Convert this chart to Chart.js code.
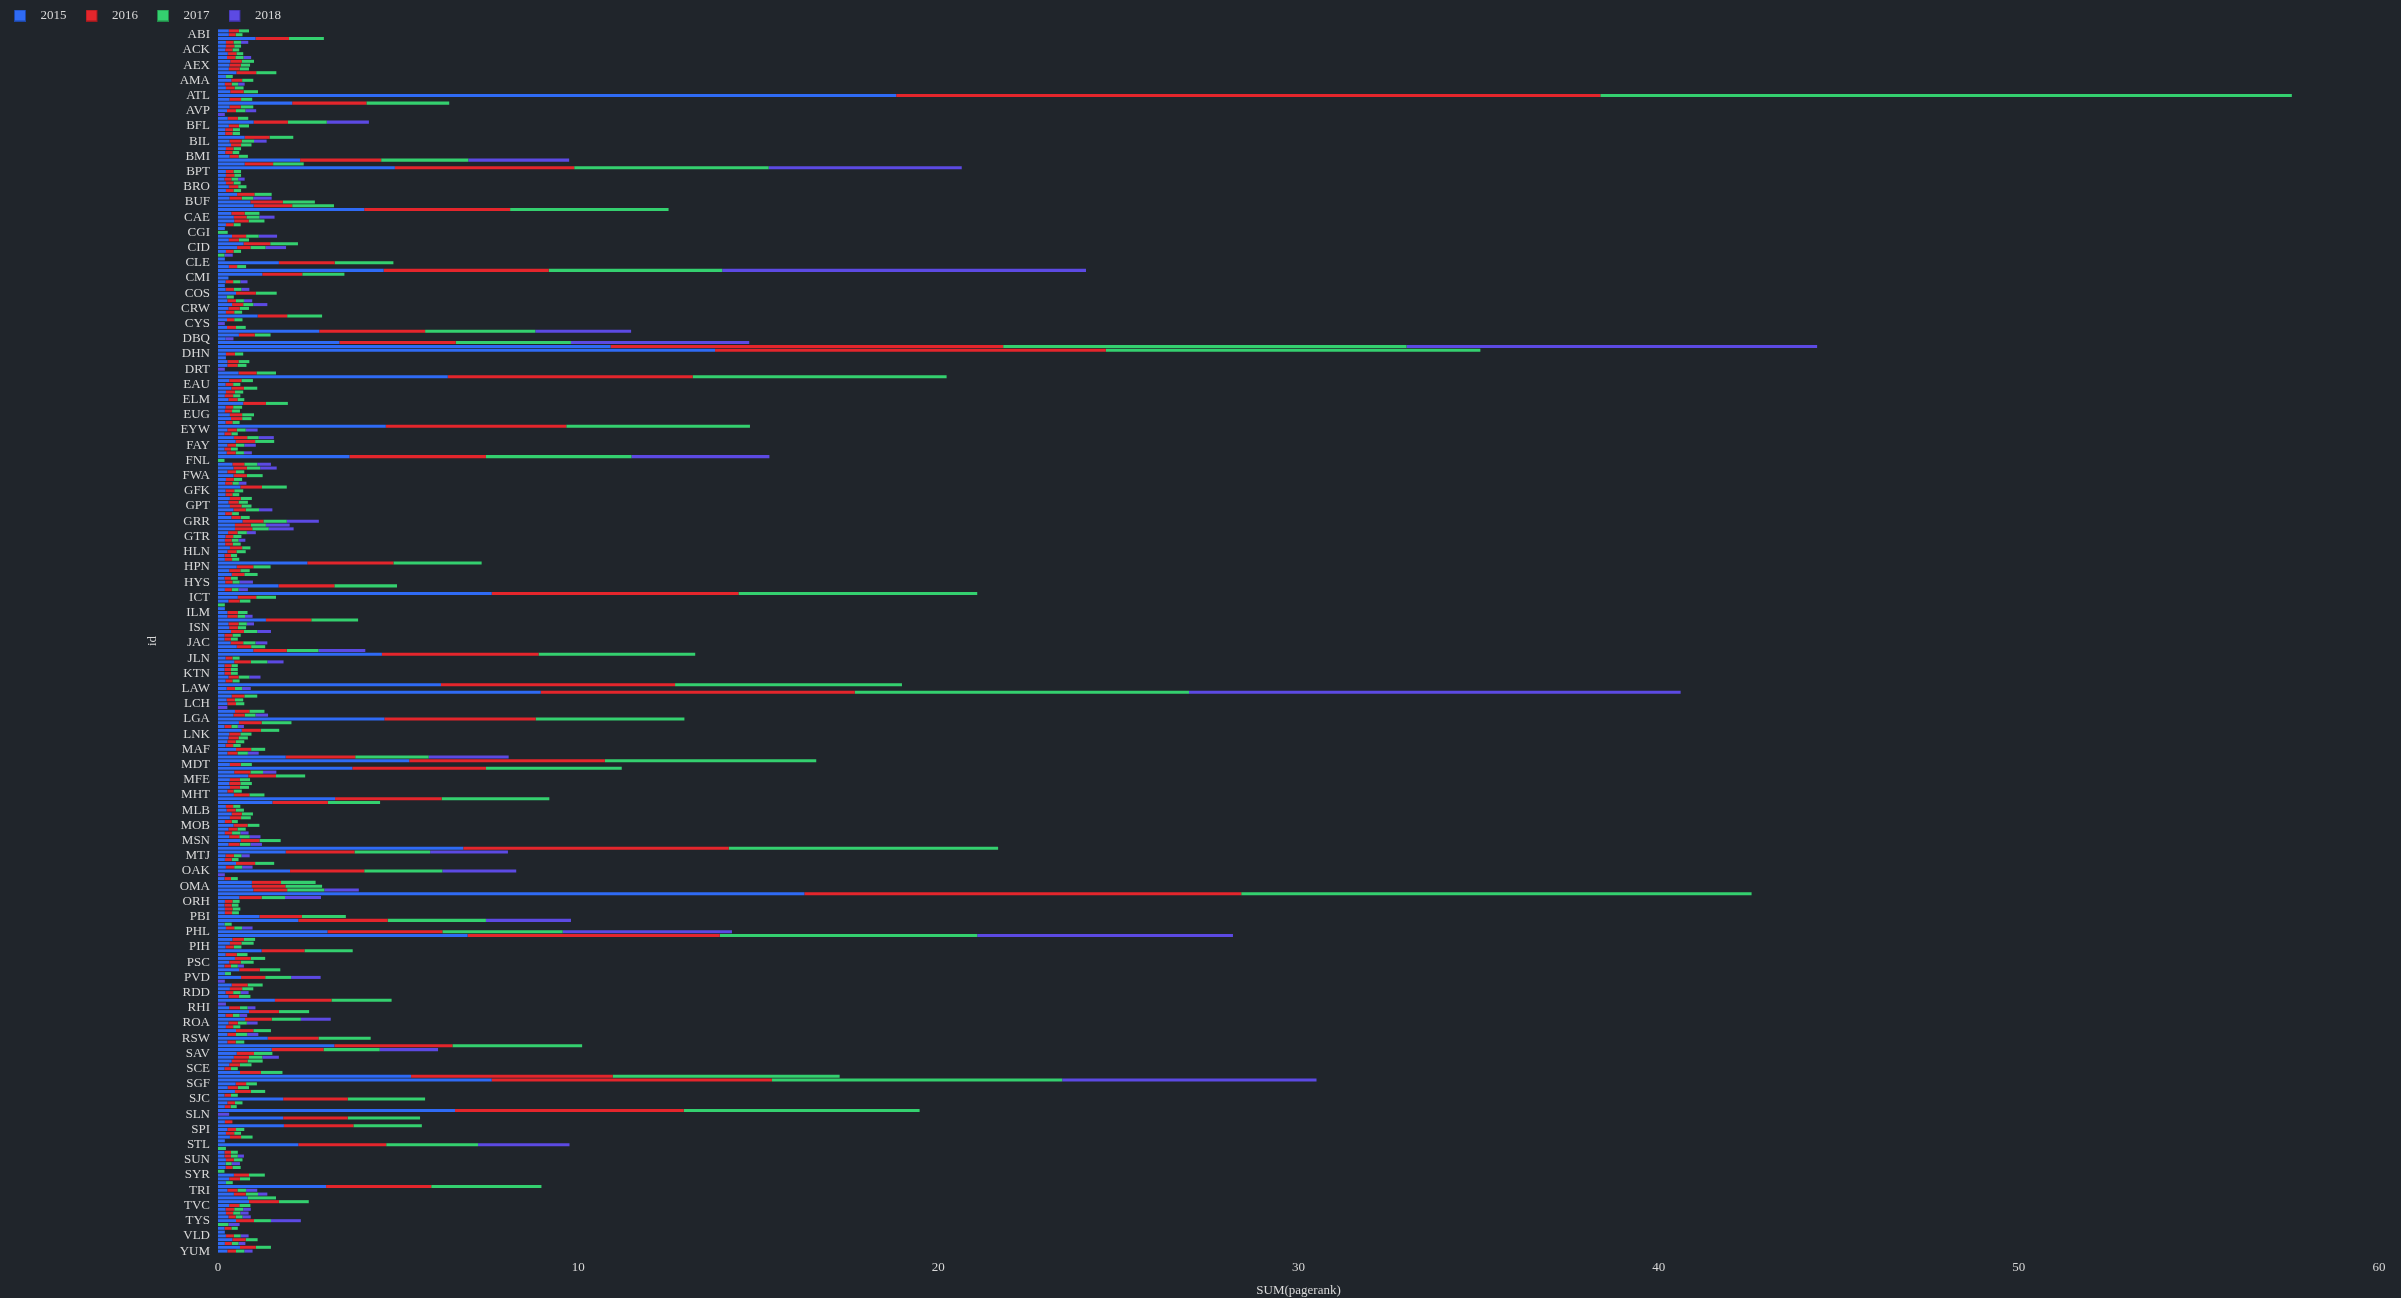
<!DOCTYPE html>
<html><head><meta charset="utf-8">
<script src="https://cdn.jsdelivr.net/npm/chart.js@4.4.1/dist/chart.umd.min.js"></script>
<style>html,body{margin:0;padding:0;background:#20252b;}#wrap{width:2401px;height:1298px;}</style>
</head><body><div id="wrap"><canvas id="c" width="2401" height="1298"></canvas></div>
<script>
const airports = ["ABE","ABI","ABQ","ABR","ABY","ACK","ACT","ACV","ACY","AEX",
"AGS","ALB","ALO","AMA","ANC","APN","ASE","ATL","ATW","AUS",
"AVL","AVP","AZO","BDL","BET","BFL","BGM","BGR","BHM","BIL",
"BIS","BJI","BLI","BMI","BNA","BOI","BOS","BPT","BQK","BQN",
"BRD","BRO","BTM","BTR","BTV","BUF","BUR","BWI","BZN","CAE",
"CAK","CDC","CDV","CGI","CHA","CHO","CHS","CID","CIU","CKB",
"CLD","CLE","CLL","CLT","CMH","CMI","CMX","CNY","COD","COS",
"COU","CPR","CRP","CRW","CSG","CVG","CWA","CYS","DAB","DAL",
"DAY","DBQ","DCA","DEN","DFW","DHN","DIK","DLH","DRO","DRT",
"DSM","DTW","DVL","EAU","ECP","EGE","EKO","ELM","ELP","ERI",
"ESC","EUG","EVV","EWN","EWR","EYW","FAI","FAR","FAT","FAY",
"FCA","FLG","FLL","FNL","FNT","FSD","FSM","FWA","GCC","GCK",
"GEG","GFK","GGG","GJT","GNV","GPT","GRB","GRI","GRK","GRR",
"GSO","GSP","GST","GTR","GUC","HDN","HIB","HLN","HNL","HOB",
"HOU","HPN","HRL","HSV","HYA","HYS","IAD","IAG","IAH","ICT",
"IDA","IFP","ILG","ILM","IMT","IND","INL","ISN","ISP","ITH",
"ITO","JAC","JAN","JAX","JFK","JLN","JMS","JNU","KOA","KTN",
"LAN","LAR","LAS","LAW","LAX","LBB","LBE","LCH","LCK","LEX",
"LFT","LGA","LGB","LIH","LIT","LNK","LRD","LSE","LWS","MAF",
"MBS","MCI","MCO","MDT","MDW","MEI","MEM","MFE","MFR","MGM",
"MHK","MHT","MIA","MKE","MKG","MLB","MLI","MLU","MMH","MOB",
"MOT","MQT","MRY","MSN","MSO","MSP","MSY","MTJ","MVY","MYR",
"OAJ","OAK","OGG","OGS","OKC","OMA","ONT","ORD","ORF","ORH",
"OTH","OTZ","PAH","PBI","PDX","PGD","PHF","PHL","PHX","PIA",
"PIB","PIH","PIT","PLN","PNS","PSC","PSG","PSP","PUB","PVD",
"PVU","PWM","RAP","RDD","RDM","RDU","RFD","RHI","RIC","RKS",
"RNO","ROA","ROC","ROW","RST","RSW","SAF","SAN","SAT","SAV",
"SBA","SBN","SBP","SCE","SDF","SEA","SFO","SGF","SGU","SHV",
"SIT","SJC","SJT","SJU","SLC","SLN","SMF","SMX","SNA","SPI",
"SPS","SRQ","STC","STL","STS","STT","STX","SUN","SUX","SWF",
"SWO","SYR","TLH","TOL","TPA","TRI","TTN","TUL","TUS","TVC",
"TWF","TXK","TYR","TYS","UIN","UST","VEL","VLD","VPS","WRG",
"XNA","YUM"];

const seriesNames = ["2015","2016","2017","2018"];

const y2015 = [.30,.30,1.04,.22,.22,.20,.27,.25,.34,.32,
.30,.51,.22,.37,.19,.22,.34,18.83,.32,2.06,
.32,.25,null,.27,.99,.30,.20,.20,.74,.32,
.36,.22,.20,.32,2.28,.74,4.91,.22,.22,.18,
.22,.30,.22,.53,.32,.90,.99,4.06,.37,.44,
.45,.22,.19,null,.39,.30,.71,.53,.22,null,
.19,1.69,.30,4.60,1.23,.29,.21,.19,.21,.50,
.24,.26,.39,.29,.22,1.10,.25,null,.25,2.81,
.58,.21,3.37,10.9,13.8,.22,.22,.26,.26,null,
.57,6.38,.31,.21,.37,.22,.19,.29,.70,.21,
.19,.33,.36,.21,4.66,.26,.18,.44,.49,.26,
.18,.24,3.65,null,.40,.43,.26,.43,.22,.20,
.62,.21,.21,.33,.29,.33,.43,.20,.37,.68,
.47,.47,.28,.21,.19,.20,.33,.26,.18,.19,
2.48,.52,.31,.38,.18,.20,1.68,.19,7.60,.55,
.29,null,.19,.26,.26,1.33,.29,.31,.36,.18,
.18,.35,.52,.98,4.55,.21,.45,.18,.18,.18,
.29,.21,6.19,.24,8.96,.38,.24,.26,null,.47,
.43,4.62,.58,.18,.66,.31,.29,.26,.21,.50,
.26,1.88,5.31,.33,3.73,.45,.84,.33,.31,.33,
.26,.44,3.25,1.51,.22,.24,.38,.33,.19,.43,
.29,.19,.31,.63,.29,6.81,1.88,.21,.19,.50,
.22,2.00,null,.18,.94,.94,.98,16.28,.59,.19,
.18,.19,.19,1.15,2.23,.18,.22,3.04,6.93,.40,
.33,.21,1.21,.21,.47,.31,.18,.59,.19,.64,
null,.38,.33,.21,.29,1.58,null,.31,.86,.21,
.75,.29,.22,.50,.26,1.38,.26,3.23,1.49,.52,
.44,.38,.31,.18,.61,5.36,7.60,.49,.27,.47,
.18,1.81,.26,.19,6.58,null,1.81,.19,1.83,.26,
.22,.33,.19,2.23,null,.18,.18,.22,.21,.21,
null,.44,.31,.22,3.00,.26,.44,.82,.86,.31,
.21,.22,.29,.50,null,.18,.19,.22,.40,.19,
.61,.26];

const y2016 = [.28,.19,.93,.21,.23,.20,.24,.23,.32,.31,
.30,.55,null,.30,.19,.24,.37,19.55,.32,2.06,
.31,.25,null,.28,.95,.28,.21,.20,.69,.34,
.28,.21,.20,.25,2.25,.79,4.98,.21,.23,.19,
.21,.26,.21,.48,.34,.90,1.07,4.05,.37,.35,
.40,.21,null,null,.39,.28,.74,.37,.21,null,
null,1.55,.23,4.58,1.11,null,.21,null,.23,.55,
null,.24,.31,.31,.23,.82,.20,null,.25,2.94,
.44,null,3.23,10.9,10.85,.25,null,.31,.28,null,
.50,6.80,.34,.21,.35,.25,.23,.25,.63,.21,
.20,.34,.31,.19,5.01,.26,.19,.37,.54,.24,
.18,.25,3.79,null,.33,.37,.24,.37,.22,.20,
.60,.24,.19,.30,.28,.32,.34,.19,.26,.58,
.44,.48,.26,.21,.19,.21,.34,.25,.18,.20,
2.39,.46,.31,.35,.18,.20,1.55,.19,6.85,.51,
.31,null,null,.29,.28,1.26,.28,.24,.36,.22,
.18,.35,.40,.93,4.35,.19,.46,.19,.18,.18,
.28,.19,6.50,.23,8.72,.35,.23,.24,null,.40,
.31,4.20,.63,.19,.53,.31,.28,.23,.21,.42,
.28,1.93,5.43,.30,3.71,.45,.77,.28,.31,.28,
.17,.43,2.96,1.54,.20,.25,.28,.31,.19,.39,
.25,.20,.28,.52,.31,7.37,1.91,.23,.19,.53,
.23,2.06,null,.18,.81,.93,.94,12.13,.62,.21,
.20,.21,.20,1.18,2.48,null,.23,3.19,7.00,.32,
.32,.23,1.19,.31,.44,.32,.18,.57,null,.67,
null,.44,.34,.21,.29,1.57,null,.30,.83,.20,
.74,.26,.20,.48,.24,1.41,.23,3.28,1.44,.48,
.42,.44,.30,.18,.58,5.60,7.78,.29,.28,.44,
.18,1.79,.21,.16,6.35,null,1.79,.21,1.93,.24,
.23,.31,null,2.44,null,.18,.18,.22,null,.19,
null,.42,.30,null,2.92,.28,.33,null,.83,.28,
.24,.20,.20,.50,null,.19,null,.22,.37,.19,
.44,.24];

const y2017 = [.28,.19,.97,.21,.19,.19,.19,.23,.34,.26,
.26,.56,.19,.31,.18,.25,.40,19.20,.31,2.30,
.35,.26,null,.29,1.08,.28,.20,.21,.66,.34,
.29,.21,.19,.26,2.42,.85,5.40,.21,.19,.19,
.20,.23,.21,.48,.32,.89,1.16,4.40,.41,.36,
.44,.20,null,.27,.35,.28,.77,.42,.21,.18,
null,1.63,.25,4.82,1.17,null,.20,null,.21,.58,
.20,.22,.28,.26,.22,.97,.23,null,.27,3.06,
.44,null,3.20,11.2,10.4,.23,null,.30,.25,null,
.54,7.05,.32,.20,.37,.23,.20,.19,.61,.25,
.22,.33,.26,.20,5.10,.25,.18,.32,.53,.23,
.19,.23,4.04,.18,.36,.37,.23,.44,.23,.18,
.69,.25,.19,.31,.26,.28,.37,.19,.25,.65,
.42,.46,.26,.23,.19,.22,.23,.26,.17,.20,
2.45,.48,.26,.37,.19,.20,1.74,.19,6.63,.55,
.30,.19,null,.27,.21,1.30,.23,.23,.37,.23,
.19,.34,.39,.88,4.35,.20,.46,.18,.19,.19,
.30,.20,6.30,.20,9.28,.36,.23,.23,null,.42,
.30,4.13,.83,.18,.51,.31,.26,.24,.21,.39,
.29,2.04,5.87,.31,3.77,.35,.81,.28,.32,.25,
.23,.42,2.99,1.45,.20,.23,.31,.27,.17,.33,
.23,.23,.29,.59,.30,7.48,2.10,.21,.19,.53,
.22,2.17,null,.19,.96,1.02,1.03,14.17,.65,.20,
.19,.22,.19,1.22,2.73,.20,.22,3.34,7.15,.31,
.34,.21,1.34,.30,.40,.36,.19,.57,.17,.72,
null,.42,.31,.21,.32,1.67,null,.21,.84,.19,
.81,.25,.20,.49,.31,1.45,.24,3.60,1.56,.51,
.37,.42,.32,.19,.60,6.30,8.06,.30,.31,.40,
.19,2.15,.21,.17,6.55,null,2.01,null,1.90,.23,
.19,.32,null,2.55,.22,.19,.19,.24,.17,.23,
.18,.44,.28,.19,3.06,.24,.34,.79,.83,.31,
.25,.20,.19,.47,.29,.18,null,.19,.33,.19,
.42,.23];

const y2018 = [null,null,null,.20,null,null,null,.21,null,null,
null,null,null,null,.18,null,null,null,null,null,
null,.30,.19,null,1.17,null,null,null,null,.35,
null,null,null,null,2.80,null,5.36,null,null,.18,
null,null,null,null,.51,null,null,null,null,.42,
null,null,null,null,.51,null,null,.57,null,.23,
null,null,null,10.10,null,null,.20,null,.22,null,
null,.23,.39,null,null,null,null,.19,null,2.66,
null,.22,4.95,11.40,null,null,null,null,null,.19,
null,null,null,null,null,null,null,null,null,null,
null,null,null,null,null,.33,null,.42,null,.32,
null,.22,3.83,null,.38,.46,null,null,null,.21,
null,null,null,null,null,null,.37,null,null,.89,
.66,.69,.25,null,.19,null,null,null,null,null,
null,null,null,null,null,.37,null,.26,null,null,
null,null,null,null,.21,null,.20,null,.38,null,
null,.33,null,1.30,null,null,.45,null,null,null,
.31,null,null,.24,13.65,null,null,null,.26,null,
.35,null,null,.17,null,null,null,null,null,null,
.30,2.22,null,null,null,.37,null,null,null,null,
null,null,null,null,null,null,null,null,null,null,
null,.23,.30,null,.32,null,2.16,.23,null,null,
.29,2.05,.19,null,null,null,.96,null,1.00,null,
null,null,null,null,2.36,null,.29,4.70,7.10,null,
null,null,null,null,null,null,.17,null,null,.82,
.19,null,null,.22,null,null,.22,.22,null,.21,
.83,.30,null,null,.31,null,null,null,1.62,null,
.46,null,null,null,null,null,7.06,null,null,null,
null,null,null,null,null,.31,null,null,null,null,
null,null,null,2.54,null,null,.17,null,.23,null,
null,null,null,null,null,.31,.26,null,null,null,
.21,.23,.23,.83,.31,null,null,.22,null,.19,
null,.23];

const xTicks = [0,10,20,30,40,50,60];

const fills = ['#2f6bf5','#e4262c','#34d06f','#5c4ae3'];
const edges = ['#1d47a8','#9c1a1e','#228a49','#3b2f9c'];
const FONT = "'Liberation Serif', 'DejaVu Serif', serif";
const TXT = '#d9d9d9';

function legendBox(fill, edge) {
  const c = document.createElement('canvas');
  c.width = 20; c.height = 12;
  const g = c.getContext('2d');
  g.fillStyle = fill; g.fillRect(0, 0, 12, 12);
  g.strokeStyle = edge; g.lineWidth = 1; g.strokeRect(0.5, 0.5, 11, 11);
  return c;
}
const boxes = fills.map((f, i) => legendBox(f, edges[i]));

const values = [y2015, y2016, y2017, y2018];
const datasets = values.map((arr, i) => ({
  label: seriesNames[i],
  data: arr,
  backgroundColor: fills[i],
  borderWidth: 0,
  categoryPercentage: 0.8,
  barPercentage: 1.0
}));

new Chart(document.getElementById('c'), {
  type: 'bar',
  data: { labels: airports, datasets },
  options: {
    indexAxis: 'y',
    responsive: false,
    devicePixelRatio: 1,
    animation: false,
    layout: { padding: { top: -10, left: -5, right: 22, bottom: 0 } },
    plugins: {
      tooltip: { enabled: false },
      legend: {
        position: 'top',
        align: 'start',
        maxHeight: 39,
        labels: {
          usePointStyle: true,
          pointStyleWidth: 20,
          padding: 19,
          color: TXT,
          font: { family: FONT, size: 13 },
          generateLabels: (chart) => {
            const items = Chart.defaults.plugins.legend.labels.generateLabels(chart);
            items.forEach((it, i) => { it.pointStyle = boxes[i]; });
            return items;
          }
        }
      }
    },
    scales: {
      x: {
        stacked: true,
        min: 0, max: 60,
        afterBuildTicks: (s) => { s.ticks = xTicks.map(v => ({ value: v })); },
        grid: { display: false, drawTicks: false },
        border: { display: false },
        ticks: { color: TXT, font: { family: FONT, size: 13 }, padding: 7 },
        title: { display: true, text: 'SUM(pagerank)', color: TXT, font: { family: FONT, size: 13 }, padding: { top: 0, bottom: 0 } },
        afterFit: (s) => { s.height = 45; }
      },
      y: {
        stacked: true,
        grid: { display: false, drawTicks: false },
        border: { display: false },
        ticks: {
          autoSkip: false,
          color: TXT,
          font: { family: FONT, size: 13 },
          padding: 8,
          callback: function(v, i) { return i % 4 === 1 ? airports[i] : ''; }
        },
        title: { display: true, text: 'id', color: TXT, font: { family: FONT, size: 13 }, padding: { top: 150, bottom: 0 } },
        afterFit: (s) => { s.width = 223; }
      }
    }
  },
  plugins: [{
    id: 'bg',
    beforeDraw: (chart) => {
      const ctx = chart.ctx;
      ctx.save(); ctx.fillStyle = '#20252b';
      ctx.fillRect(0, 0, chart.width, chart.height); ctx.restore();
    }
  }]
});
</script>
</body></html>
